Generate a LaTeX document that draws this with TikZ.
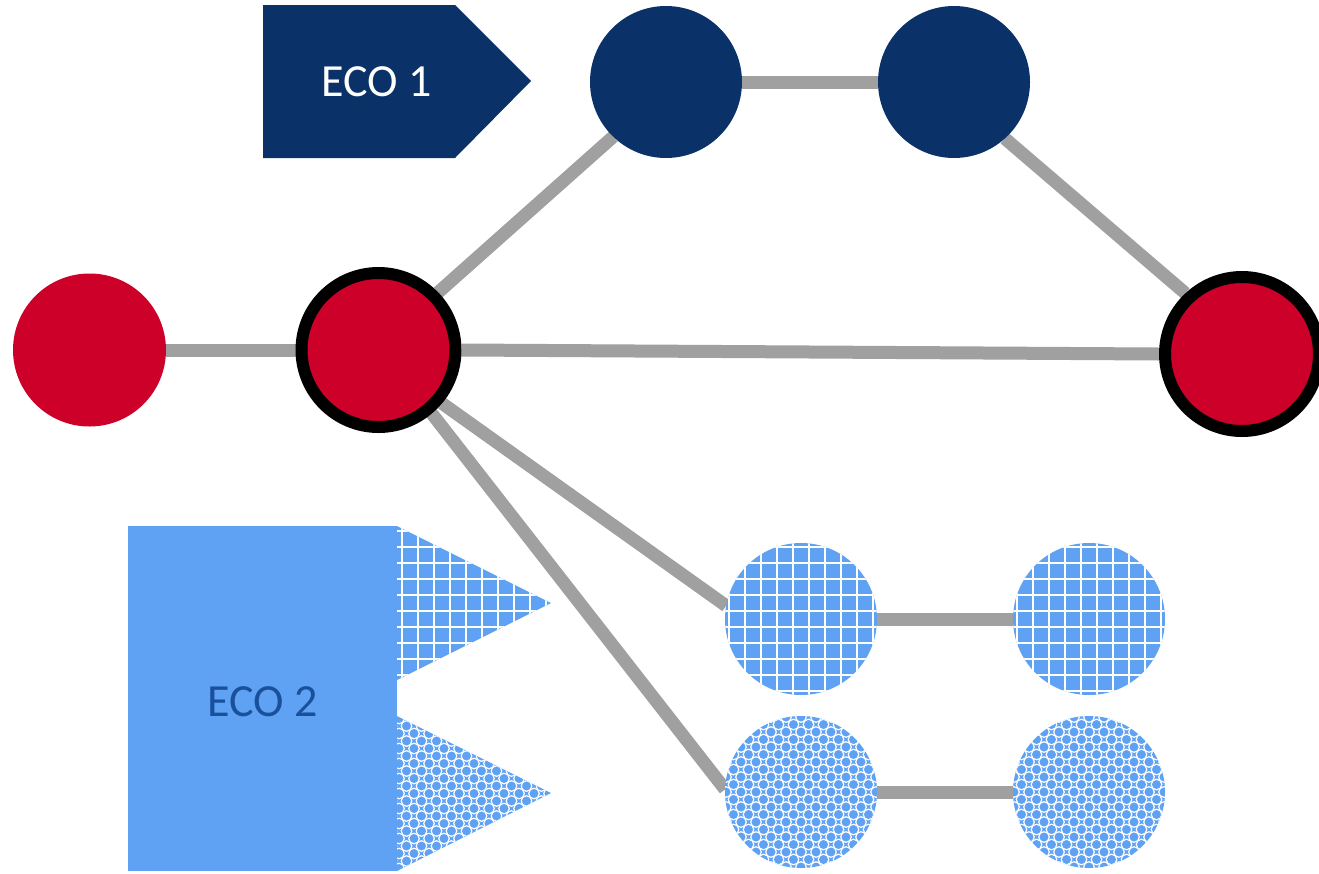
\documentclass[tikz,border=0pt]{standalone}
\usepackage{fontspec}
\setmainfont{Carlito}
\usetikzlibrary{backgrounds}
\definecolor{navy}{RGB}{10,50,104}
\definecolor{ecored}{RGB}{204,0,41}
\definecolor{ecoblue}{RGB}{95,161,242}
\definecolor{edgegray}{RGB}{160,160,160}
\definecolor{ecotext}{RGB}{25,80,155}
\tikzset{
  link/.style={draw=edgegray, line width=13pt},
  navynode/.style={circle, fill=navy, minimum size=152pt, inner sep=0pt, outer sep=0pt},
  rednode/.style={circle, fill=ecored, minimum size=153pt, inner sep=0pt, outer sep=0pt},
  hubnode/.style={circle, fill=ecored, draw=black, line width=12pt, minimum size=154pt, inner sep=0pt},
  gridfill/.style={fill=ecoblue, path picture={
      \foreach \k in {-12,...,12}{
        \draw[white, line width=2.6pt] ([xshift={(\k+0.5)*16pt}]path picture bounding box.center) ++(0,-200pt) -- ++(0,400pt);
        \draw[white, line width=2.6pt] ([yshift={(\k+0.5)*16pt}]path picture bounding box.center) ++(-200pt,0) -- ++(400pt,0);
      }}},
  diafill/.style={fill=ecoblue, path picture={
      \foreach \i in {-6,...,6}{
        \foreach \j in {-6,...,6}{
          \draw[white, line width=1.2pt] ([xshift=\i*15pt, yshift=\j*15pt]path picture bounding box.center) circle (5.3pt);
          \draw[white, line width=1.2pt] ([xshift=\i*15pt+7.5pt, yshift=\j*15pt+7.5pt]path picture bounding box.center) circle (5.3pt);
        }}}},
  patnode/.style={circle, minimum size=152pt, inner sep=0pt, outer sep=0pt},
  ecolabel/.style={font=\fontsize{46}{50}\selectfont, inner sep=0pt},
}
\begin{document}
\begin{tikzpicture}[x=1pt, y=-1pt]
\useasboundingbox (0,0) rectangle (1319,873);

% ECO 1 banner
\fill[navy] (263,5) -- (455,5) -- (531,81) -- (455,158) -- (263,158) -- cycle;
\node[ecolabel, text=white] (eco1) at (377,82) {ECO 1};

% ECO 2 block
\node[rectangle, fill=ecoblue, minimum width=269pt, minimum height=345pt, inner sep=0pt] (eco2box) at (262.5,698.5) {};
\node[ecolabel, text=ecotext] (eco2) at (263,702) {ECO 2};
\path[gridfill] (397,526) -- (551,603) -- (397,680) -- cycle;
\path[diafill] (397,716) -- (551,793) -- (397,871) -- cycle;

% nodes
\node[navynode] (n1) at (666,82) {};
\node[navynode] (n2) at (954,82) {};
\node[rednode] (r1) at (89.5,350) {};
\node[hubnode] (r2) at (378.5,350) {};
\node[hubnode] (r3) at (1242,354) {};
\node[patnode, gridfill] (g1) at (801,619) {};
\node[patnode, gridfill] (g2) at (1089,619) {};
\node[patnode, diafill] (d1) at (801,792) {};
\node[patnode, diafill] (d2) at (1089,792) {};

\begin{pgfonlayer}{background}
\draw[link] (r1.east) -- (r2.west);
\draw[link] (r2.44) -- (n1.226);
\draw[link] (n1.east) -- (n2.west);
\draw[link] (n2.-48) -- (r3.133);
\draw[link] (r2.east) -- (r3.west);
\draw[link] (r2.-40) -- (g1.170);
\draw[link] (r2.-50) -- (d1.178);
\draw[link] (g1.east) -- (g2.west);
\draw[link] (d1.east) -- (d2.west);
\end{pgfonlayer}
\end{tikzpicture}
\end{document}
